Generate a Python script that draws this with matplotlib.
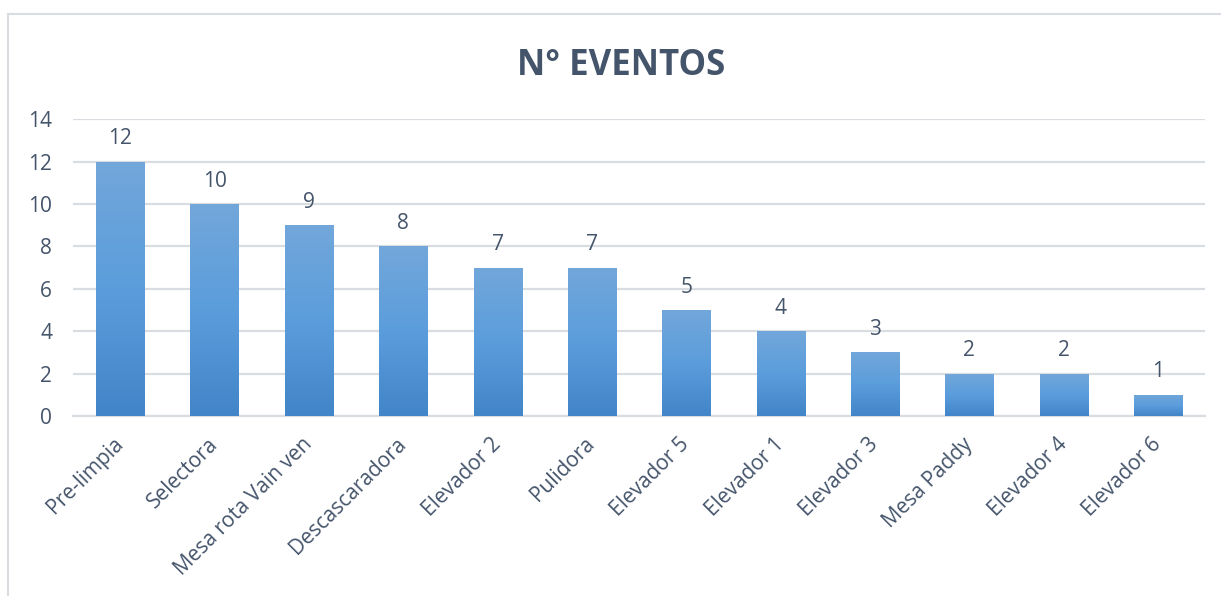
import numpy as np
import matplotlib
matplotlib.use('Agg')
import matplotlib.pyplot as plt
from matplotlib.colors import LinearSegmentedColormap
from matplotlib.lines import Line2D

# Data
categories = ['Pre-limpia', 'Selectora', 'Mesa rota Vain ven', 'Descascaradora',
              'Elevador 2', 'Pulidora', 'Elevador 5', 'Elevador 1', 'Elevador 3',
              'Mesa Paddy', 'Elevador 4', 'Elevador 6']
eventos = [12, 10, 9, 8, 7, 7, 5, 4, 3, 2, 2, 1]
y_ticks = [0, 2, 4, 6, 8, 10, 12, 14]

text_color = '#44546A'
grid_color = '#D9DCE1'
plt.rcParams['font.family'] = ['Open Sans', 'DejaVu Sans']

fig = plt.figure(figsize=(12.21, 5.96), dpi=100)
ax = fig.add_axes([0.0598, 0.302, 0.9272, 0.498])

x = np.arange(len(categories))
bars = ax.bar(x, eventos, width=0.51, color='#5B9BD5', zorder=2)

# vertical gradient per bar (light top, darker bottom)
cmap = LinearSegmentedColormap.from_list('grad', ['#4285C8', '#5B9DDC', '#72A7DA'])
grad = np.linspace(0, 1, 256).reshape(-1, 1)
for b in bars:
    x0, w, h = b.get_x(), b.get_width(), b.get_height()
    im = ax.imshow(grad, cmap=cmap, aspect='auto', origin='lower',
                   extent=[x0, x0 + w, 0, h], zorder=3)
    im.set_clip_path(b)

# value labels
for xi, v in zip(x, eventos):
    ax.annotate(str(v), (xi, v), xytext=(0, 9), textcoords='offset points',
                ha='center', va='bottom', fontsize=15, color=text_color)

ax.set_xlim(-0.5, len(categories) - 0.5)
ax.set_ylim(0, 14)
ax.set_yticks(y_ticks)
ax.yaxis.grid(True, color=grid_color, linewidth=1.6, zorder=0)
ax.set_axisbelow(True)
for s in ['top', 'right', 'left']:
    ax.spines[s].set_visible(False)
ax.spines['bottom'].set_color(grid_color)
ax.spines['bottom'].set_linewidth(1.6)
ax.tick_params(axis='both', length=0, labelsize=15, labelcolor=text_color)
ax.tick_params(axis='y', pad=15)
ax.set_xticks(x)
ax.set_xticklabels(categories, rotation=45, ha='right', va='center',
                   rotation_mode='anchor')
ax.tick_params(axis='x', pad=18)

fig.text(0.509, 0.889, 'N° EVENTOS', ha='center', va='center',
         fontsize=25, fontweight='bold', color=text_color)

# chart border (only top and left edges visible)
fig.add_artist(Line2D([8 / 1221, 1], [1 - 14 / 596, 1 - 14 / 596],
                      transform=fig.transFigure, color=grid_color, linewidth=1.5))
fig.add_artist(Line2D([8 / 1221, 8 / 1221], [0, 1 - 14 / 596],
                      transform=fig.transFigure, color=grid_color, linewidth=1.5))

fig.savefig('out.png', dpi=100)
